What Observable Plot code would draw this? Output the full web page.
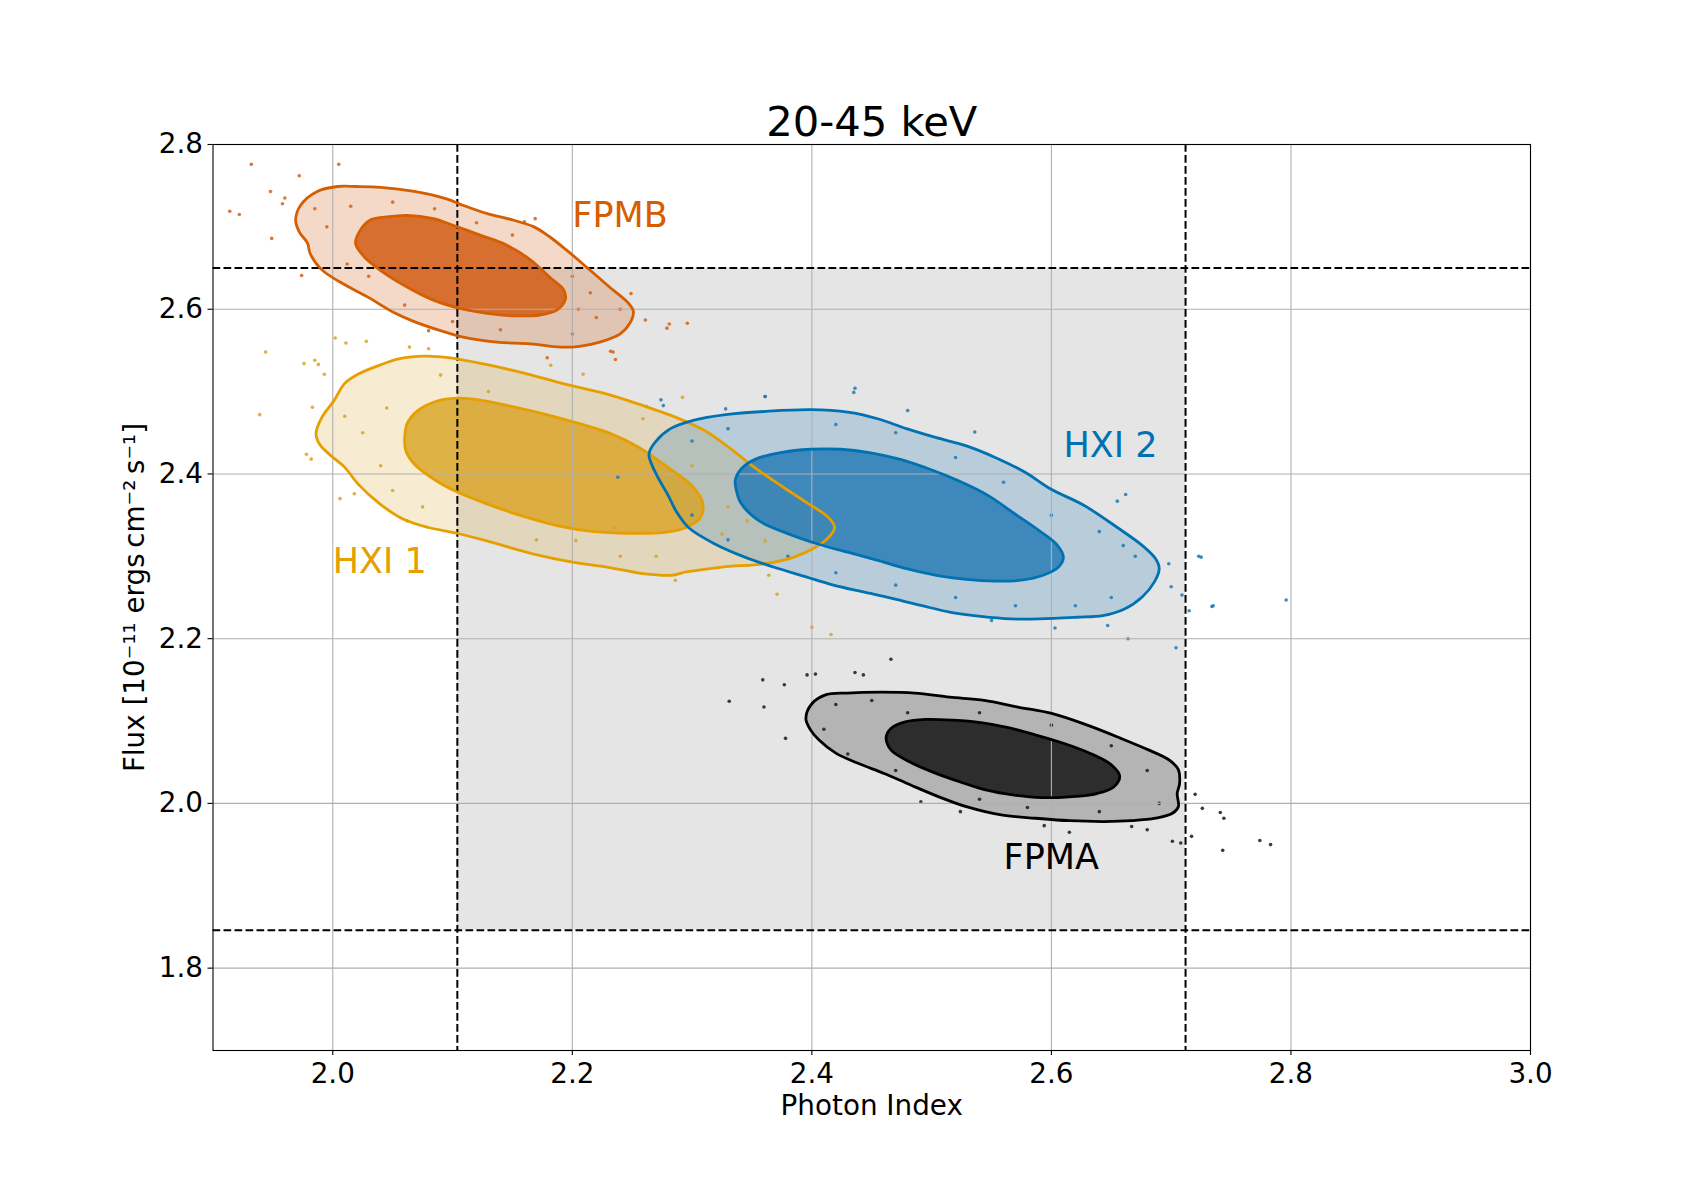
<!DOCTYPE html>
<html>
<head>
<meta charset="utf-8">
<script src="https://cdn.jsdelivr.net/npm/d3@7"></script>
<script src="https://cdn.jsdelivr.net/npm/@observablehq/plot@0.6"></script>
<style>
  html, body { margin: 0; padding: 0; background: white; }
  #chart { width: 1700px; height: 1200px; }
</style>
</head>
<body>
<div id="chart"></div>
<script>
// ---- axis ticks and labels ----
const xTicks = [2.0, 2.2, 2.4, 2.6, 2.8, 3.0];
const yTicks = [1.8, 2.0, 2.2, 2.4, 2.6, 2.8];
const xDomain = [1.9, 3.0];
const yDomain = [1.7, 2.8];
const titleText = "20-45 keV";
const xLabel = "Photon Index";
const yLabel = "Flux [10\u207B\u00B9\u00B9 ergs\u2009cm\u207B\u00B2\u2009s\u207B\u00B9]";

// ---- selection box (dashed bounds) ----
const boxIndex = [2.104, 2.712];
const boxFlux = [1.846, 2.650];

// ---- series names, colors, label positions ----
const seriesNames = ["FPMB", "HXI 1", "HXI 2", "FPMA"];
const lineColors = ["#d55e00", "#e69f00", "#0072b2", "#000000"];
const dotColors = ["#d2601a", "#d9a21f", "#1f77b4", "#1a1a1a"];
const labelX = [2.20, 2.00, 2.61, 2.56];
const labelY = [2.70, 2.28, 2.42, 1.92];

// ---- contours (outer and inner) ----
const fpmbOuter = [[1.969,2.708],[1.973,2.726],[1.987,2.743],[2.004,2.749],[2.020,2.749],[2.040,2.748],[2.068,2.743],[2.095,2.734],[2.109,2.726],[2.129,2.716],[2.151,2.708],[2.168,2.700],[2.181,2.688],[2.195,2.672],[2.212,2.651],[2.231,2.627],[2.247,2.607],[2.251,2.597],[2.248,2.583],[2.240,2.570],[2.223,2.560],[2.206,2.555],[2.190,2.554],[2.165,2.558],[2.137,2.560],[2.109,2.566],[2.090,2.574],[2.068,2.585],[2.051,2.596],[2.029,2.615],[2.006,2.633],[1.990,2.649],[1.981,2.668],[1.979,2.680],[1.972,2.694]];
const fpmbInner = [[2.019,2.680],[2.023,2.696],[2.031,2.708],[2.045,2.712],[2.062,2.714],[2.084,2.710],[2.104,2.700],[2.123,2.690],[2.145,2.678],[2.165,2.660],[2.181,2.639],[2.193,2.623],[2.194,2.611],[2.187,2.599],[2.173,2.593],[2.151,2.592],[2.129,2.595],[2.106,2.601],[2.084,2.611],[2.062,2.627],[2.040,2.647],[2.026,2.664]];

const hxi1Outer = [[1.986,2.449],[1.991,2.469],[2.001,2.489],[2.010,2.510],[2.021,2.521],[2.039,2.532],[2.056,2.540],[2.077,2.543],[2.098,2.541],[2.128,2.533],[2.158,2.523],[2.194,2.509],[2.229,2.497],[2.259,2.483],[2.286,2.469],[2.310,2.453],[2.331,2.432],[2.352,2.408],[2.376,2.384],[2.397,2.364],[2.414,2.347],[2.419,2.335],[2.414,2.323],[2.403,2.311],[2.385,2.299],[2.361,2.291],[2.325,2.287],[2.295,2.281],[2.283,2.277],[2.259,2.279],[2.229,2.287],[2.200,2.293],[2.167,2.303],[2.128,2.319],[2.104,2.328],[2.080,2.335],[2.059,2.345],[2.039,2.364],[2.021,2.388],[2.010,2.408],[1.997,2.424],[1.989,2.436]];
const hxi1Inner = [[2.060,2.441],[2.062,2.461],[2.071,2.477],[2.086,2.488],[2.104,2.492],[2.122,2.490],[2.146,2.483],[2.176,2.473],[2.206,2.461],[2.232,2.449],[2.256,2.432],[2.280,2.408],[2.301,2.384],[2.309,2.364],[2.307,2.347],[2.295,2.335],[2.277,2.329],[2.247,2.328],[2.218,2.330],[2.188,2.337],[2.158,2.349],[2.128,2.364],[2.104,2.378],[2.086,2.392],[2.068,2.412],[2.061,2.428]];

const hxi2Outer = [[2.264,2.424],[2.270,2.440],[2.282,2.455],[2.301,2.465],[2.328,2.472],[2.362,2.476],[2.399,2.478],[2.430,2.475],[2.455,2.467],[2.479,2.455],[2.504,2.444],[2.529,2.434],[2.553,2.420],[2.578,2.402],[2.599,2.382],[2.627,2.362],[2.655,2.335],[2.676,2.313],[2.687,2.297],[2.690,2.285],[2.686,2.269],[2.676,2.251],[2.661,2.236],[2.643,2.228],[2.621,2.226],[2.590,2.224],[2.566,2.224],[2.541,2.227],[2.516,2.232],[2.492,2.240],[2.467,2.249],[2.442,2.257],[2.418,2.265],[2.393,2.276],[2.368,2.287],[2.344,2.299],[2.319,2.315],[2.297,2.335],[2.287,2.354],[2.280,2.374],[2.270,2.400]];
const hxi2Inner = [[2.336,2.392],[2.341,2.406],[2.353,2.418],[2.374,2.426],[2.399,2.430],[2.424,2.430],[2.448,2.426],[2.473,2.418],[2.498,2.406],[2.522,2.392],[2.547,2.374],[2.569,2.352],[2.590,2.331],[2.604,2.315],[2.610,2.299],[2.606,2.287],[2.593,2.277],[2.575,2.271],[2.553,2.270],[2.529,2.272],[2.504,2.277],[2.479,2.285],[2.455,2.295],[2.430,2.305],[2.405,2.315],[2.381,2.327],[2.356,2.343],[2.341,2.364],[2.337,2.380]];

const fpmaOuter = [[2.395,2.103],[2.400,2.121],[2.412,2.132],[2.429,2.134],[2.458,2.135],[2.486,2.134],[2.515,2.129],[2.544,2.125],[2.572,2.117],[2.601,2.109],[2.630,2.095],[2.658,2.079],[2.681,2.065],[2.698,2.053],[2.706,2.041],[2.707,2.024],[2.705,2.012],[2.706,1.996],[2.701,1.988],[2.687,1.982],[2.667,1.979],[2.644,1.978],[2.615,1.979],[2.587,1.982],[2.558,1.986],[2.529,1.996],[2.506,2.008],[2.483,2.022],[2.461,2.036],[2.438,2.049],[2.420,2.061],[2.406,2.077],[2.399,2.089]];
const fpmaInner = [[2.462,2.080],[2.466,2.091],[2.478,2.099],[2.495,2.102],[2.518,2.101],[2.541,2.098],[2.564,2.092],[2.587,2.083],[2.610,2.073],[2.632,2.061],[2.650,2.047],[2.657,2.033],[2.652,2.020],[2.638,2.012],[2.615,2.008],[2.592,2.007],[2.569,2.010],[2.546,2.016],[2.524,2.026],[2.501,2.038],[2.481,2.051],[2.466,2.065]];

// ---- scattered samples ----
const fpmbPoints = [[1.932,2.776],[1.914,2.719],[1.922,2.715],[2.005,2.776],[1.972,2.762],[1.948,2.743],[1.949,2.686],[1.974,2.641],[2.261,2.587],[2.279,2.577],[2.249,2.619],[2.234,2.548],[2.179,2.541],[2.080,2.574],[2.169,2.710],[2.160,2.706],[2.296,2.583],[2.281,2.582],[2.232,2.549],[2.236,2.539],[1.960,2.735],[1.958,2.728],[1.995,2.700],[2.012,2.655],[2.030,2.640],[2.060,2.605],[2.100,2.585],[2.140,2.575],[2.200,2.570],[2.220,2.590],[2.215,2.620],[2.200,2.640],[2.150,2.690],[2.120,2.705],[2.085,2.722],[2.050,2.730],[2.015,2.725],[1.985,2.722],[2.240,2.600],[2.205,2.600]];
const hxi1Points = [[1.976,2.534],[1.985,2.538],[1.988,2.533],[1.993,2.521],[1.983,2.481],[1.982,2.418],[1.978,2.424],[2.006,2.370],[2.018,2.376],[2.011,2.559],[2.028,2.561],[2.064,2.554],[2.080,2.552],[2.062,2.343],[2.182,2.532],[2.209,2.521],[2.259,2.467],[2.292,2.493],[2.262,2.482],[2.346,2.343],[2.361,2.319],[2.371,2.254],[2.364,2.277],[2.286,2.271],[2.203,2.319],[2.235,2.335],[2.325,2.327],[1.939,2.472],[1.944,2.548],[2.002,2.565],[2.416,2.205],[2.400,2.214],[2.010,2.470],[2.025,2.450],[2.040,2.410],[2.045,2.480],[2.050,2.380],[2.075,2.360],[2.090,2.520],[2.130,2.500],[2.170,2.320],[2.240,2.300],[2.270,2.300],[2.330,2.360],[2.300,2.410]];
const hxi2Points = [[2.361,2.494],[2.480,2.477],[2.536,2.451],[2.662,2.375],[2.655,2.367],[2.660,2.313],[2.698,2.291],[2.700,2.263],[2.723,2.300],[2.734,2.239],[2.715,2.234],[2.704,2.189],[2.664,2.200],[2.603,2.213],[2.647,2.216],[2.550,2.222],[2.435,2.499],[2.276,2.483],[2.328,2.479],[2.709,2.253],[2.361,2.494],[2.436,2.504],[2.274,2.490],[2.238,2.396],[2.796,2.247],[2.735,2.240],[2.725,2.299],[2.300,2.440],[2.330,2.455],[2.420,2.460],[2.470,2.450],[2.520,2.420],[2.560,2.390],[2.600,2.350],[2.640,2.330],[2.670,2.300],[2.650,2.250],[2.620,2.240],[2.570,2.240],[2.520,2.250],[2.470,2.265],[2.420,2.280],[2.380,2.300],[2.330,2.320],[2.300,2.350]];
const fpmaPoints = [[2.466,2.175],[2.359,2.150],[2.377,2.144],[2.396,2.156],[2.403,2.157],[2.436,2.159],[2.443,2.156],[2.378,2.079],[2.360,2.117],[2.491,2.002],[2.524,1.990],[2.594,1.973],[2.615,1.965],[2.720,2.011],[2.726,1.994],[2.741,1.989],[2.744,1.982],[2.717,1.960],[2.701,1.954],[2.708,1.952],[2.743,1.943],[2.774,1.955],[2.783,1.950],[2.680,1.968],[2.667,1.972],[2.331,2.124],[2.420,2.120],[2.450,2.125],[2.480,2.110],[2.540,2.110],[2.600,2.095],[2.650,2.070],[2.680,2.040],[2.690,2.000],[2.640,1.990],[2.580,1.995],[2.540,2.005],[2.470,2.040],[2.430,2.060],[2.410,2.090]];

const toObj = (pairs) => pairs.map(([x, y]) => ({x, y}));
const outers = [fpmbOuter, hxi1Outer, hxi2Outer, fpmaOuter].map(toObj);
const inners = [fpmbInner, hxi1Inner, hxi2Inner, fpmaInner].map(toObj);
const points = [fpmbPoints, hxi1Points, hxi2Points, fpmaPoints].map(toObj);

const outerFillOpacity = [0.24, 0.2, 0.22, 0.24];
const innerFillOpacity = [0.88, 0.78, 0.8, 0.88];

const curve = "catmull-rom-closed";
const marks = [];

// grey selection region
marks.push(Plot.rect([{x1: boxIndex[0], x2: boxIndex[1], y1: boxFlux[0], y2: boxFlux[1]}],
  {x1: "x1", x2: "x2", y1: "y1", y2: "y2", fill: "#e5e5e5"}));

// density fills
seriesNames.forEach((name, i) => {
  marks.push(Plot.line(outers[i], {x: "x", y: "y", curve, fill: dotColors[i], fillOpacity: outerFillOpacity[i], stroke: "none"}));
});
seriesNames.forEach((name, i) => {
  marks.push(Plot.line(inners[i], {x: "x", y: "y", curve, fill: dotColors[i], fillOpacity: innerFillOpacity[i], stroke: "none"}));
});
// scattered points
seriesNames.forEach((name, i) => {
  marks.push(Plot.dot(points[i], {x: "x", y: "y", r: 1.8, fill: dotColors[i], fillOpacity: 0.85, stroke: "none"}));
});

// grid
marks.push(Plot.gridX(xTicks, {stroke: "#b0b0b0", strokeOpacity: 1, strokeWidth: 1.1}));
marks.push(Plot.gridY(yTicks, {stroke: "#b0b0b0", strokeOpacity: 1, strokeWidth: 1.1}));

// dashed bounds
marks.push(Plot.ruleX(boxIndex, {stroke: "black", strokeWidth: 2, strokeDasharray: "7.7,3.3"}));
marks.push(Plot.ruleY(boxFlux, {stroke: "black", strokeWidth: 2, strokeDasharray: "7.7,3.3"}));

// contour lines
seriesNames.forEach((name, i) => {
  marks.push(Plot.line(outers[i], {x: "x", y: "y", curve, stroke: lineColors[i], strokeWidth: 2.8}));
  marks.push(Plot.line(inners[i], {x: "x", y: "y", curve, stroke: lineColors[i], strokeWidth: 2.8}));
});

// series labels
seriesNames.forEach((name, i) => {
  marks.push(Plot.text([name], {x: () => labelX[i], y: () => labelY[i], text: d => d,
    textAnchor: "start", lineAnchor: "bottom", fontSize: 35, fill: lineColors[i]}));
});

// axes
marks.push(Plot.axisX(xTicks, {tickFormat: d => d.toFixed(1), tickSize: 5, tickPadding: 8, fontSize: 27.8, label: null, strokeWidth: 1.1}));
marks.push(Plot.axisY(yTicks, {tickFormat: d => d.toFixed(1), tickSize: 5, tickPadding: 5, fontSize: 27.8, label: null, strokeWidth: 1.1}));

// title and axis labels
marks.push(Plot.text([titleText], {frameAnchor: "top", dy: -9, lineAnchor: "bottom", fontSize: 41.7, text: d => d}));
marks.push(Plot.text([xLabel], {frameAnchor: "bottom", dy: 64, lineAnchor: "bottom", fontSize: 27.8, text: d => d}));
marks.push(Plot.text([yLabel], {frameAnchor: "left", textAnchor: "middle", dx: -69.5, dy: 0, rotate: -90, lineAnchor: "bottom", fontSize: 27.8, text: d => d}));

marks.push(Plot.frame({stroke: "black", strokeWidth: 1.1}));

const chart = Plot.plot({
  width: 1700,
  height: 1200,
  marginLeft: 212.5,
  marginRight: 170,
  marginTop: 144,
  marginBottom: 150,
  x: {domain: xDomain},
  y: {domain: yDomain},
  style: {fontFamily: "DejaVu Sans", background: "white", color: "black", overflow: "visible"},
  marks
});
document.getElementById("chart").appendChild(chart);
</script>
</body>
</html>
